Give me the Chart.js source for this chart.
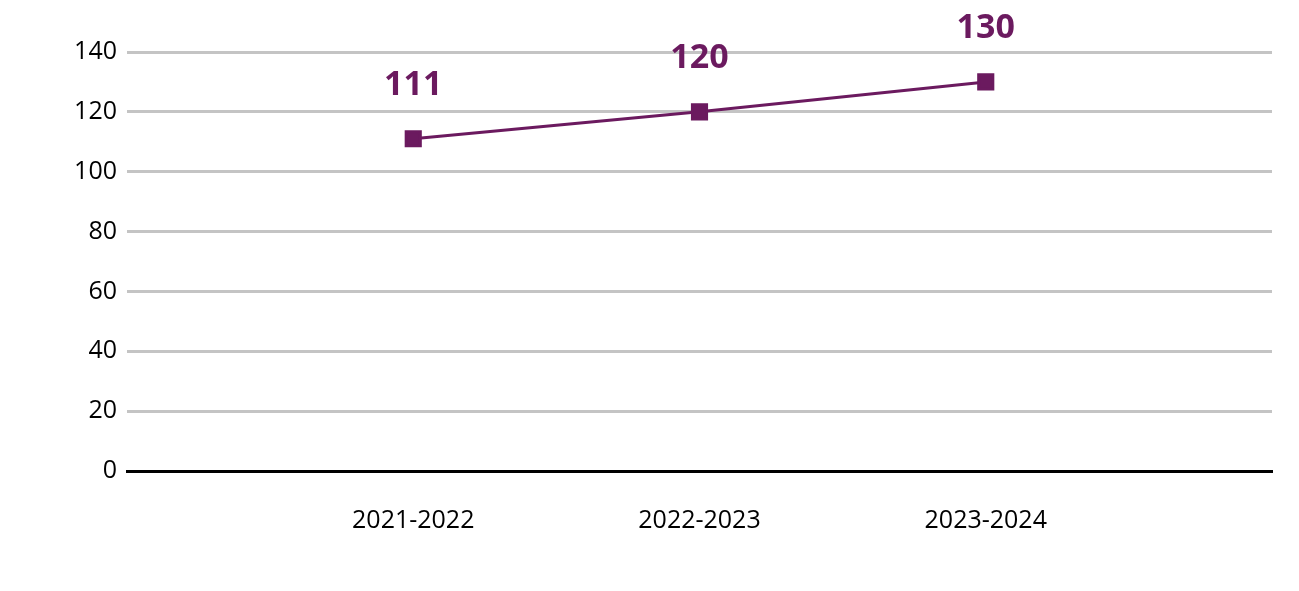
<!DOCTYPE html>
<html>
<head>
<meta charset="UTF-8">
<script src="https://cdn.jsdelivr.net/npm/chart.js"></script>
<style>
  body { margin: 0; background: #fff; }
</style>
</head>
<body>
<canvas id="c" width="1299" height="591"></canvas>
<script>
const categories = ['', '2021-2022', '2022-2023', '2023-2024', ''];
const values = [null, 111, 120, 130, null];
const yTicks = [0, 20, 40, 60, 80, 100, 120, 140];
const purple = '#6b1a5f';

// value labels over each point
const labelPlugin = {
  id: 'labels',
  afterDatasetsDraw(chart) {
    const ctx = chart.ctx;
    const meta = chart.getDatasetMeta(0);
    ctx.save();
    ctx.font = 'bold 34px "Open Sans"';
    ctx.fillStyle = purple;
    ctx.textAlign = 'center';
    ctx.textBaseline = 'alphabetic';
    meta.data.forEach((pt, i) => {
      if (values[i] == null) return;
      ctx.fillText(values[i], pt.x, pt.y - 44);
    });
    ctx.restore();
  }
};

new Chart(document.getElementById('c'), {
  type: 'line',
  data: {
    labels: categories,
    datasets: [{
      data: values,
      borderColor: purple,
      backgroundColor: purple,
      borderWidth: 3,
      pointStyle: 'rect',
      pointRadius: 10,
      pointHoverRadius: 10,
      spanGaps: true
    }]
  },
  options: {
    responsive: false,
    animation: false,
    layout: { autoPadding: false, padding: { top: 52, right: 2, bottom: 28 } },
    plugins: { legend: { display: false }, tooltip: { enabled: false } },
    scales: {
      x: {
        offset: false,
        grid: { display: false },
        border: { color: '#000', width: 3 },
        ticks: { color: '#000', font: { size: 25, family: 'Open Sans' }, padding: 27, maxRotation: 0 }
      },
      y: {
        min: 0, max: 140,
        afterBuildTicks: s => { s.ticks = yTicks.map(v => ({ value: v })); },
        afterFit: s => { s.width = 127; },
        grid: { color: '#c4c4c4', lineWidth: 3, drawTicks: false },
        border: { display: false },
        ticks: { color: '#000', font: { size: 25, family: 'Open Sans' }, padding: 10 }
      }
    }
  },
  plugins: [labelPlugin]
});
</script>
</body>
</html>
